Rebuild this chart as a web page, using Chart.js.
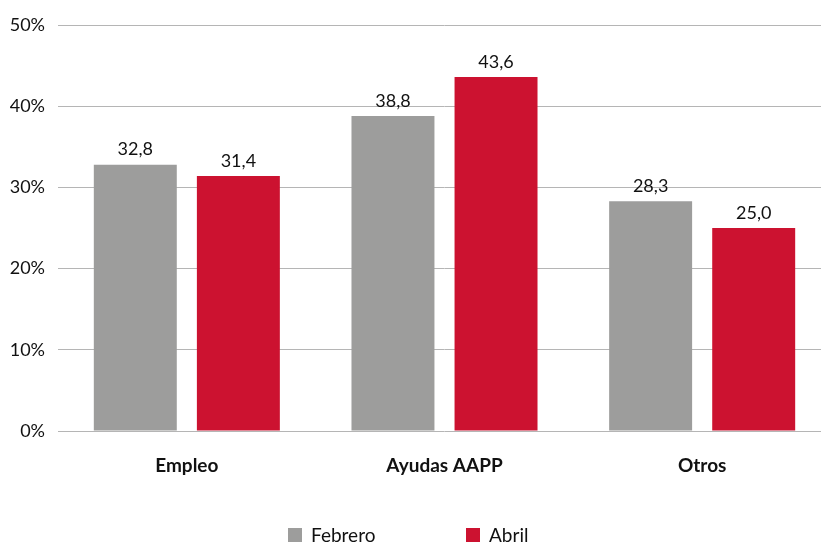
<!DOCTYPE html>
<html>
<head>
<meta charset="utf-8">
<script src="https://cdn.jsdelivr.net/npm/chart.js"></script>
<style>
  html, body { margin: 0; padding: 0; background: #fff; overflow: hidden; }
  #wrap { width: 831px; height: 543px; }
</style>
</head>
<body>
<div id="wrap"><canvas id="chart" width="831" height="543"></canvas></div>
<script>
const categories = ['Empleo', 'Ayudas AAPP', 'Otros'];
const febrero = [32.8, 38.8, 28.3];
const abril = [31.4, 43.6, 25.0];
const seriesNames = ['Febrero', 'Abril'];
const yTicks = [0, 10, 20, 30, 40, 50];

const GRAY = '#9d9d9c';
const RED = '#cc1230';
const FONT = 'Lato, "Open Sans", sans-serif';

// value labels above bars
const barLabels = {
    id: 'barLabels',
    afterDatasetsDraw(chart) {
        const ctx = chart.ctx;
        ctx.save();
        ctx.font = '18px ' + FONT;
        ctx.fillStyle = '#111';
        ctx.textAlign = 'center';
        ctx.textBaseline = 'bottom';
        chart.data.datasets.forEach((ds, i) => {
            chart.getDatasetMeta(i).data.forEach((bar, j) => {
                ctx.fillText(ds.data[j].toFixed(1).replace('.', ','), bar.x, bar.y - 6);
            });
        });
        ctx.restore();
    }
};

// legend drawn at bottom
const bottomLegend = {
    id: 'bottomLegend',
    afterDraw(chart) {
        const ctx = chart.ctx;
        const xs = [288, 466];
        ctx.save();
        ctx.font = '19px ' + FONT;
        ctx.textBaseline = 'middle';
        chart.data.datasets.forEach((ds, i) => {
            ctx.fillStyle = ds.backgroundColor;
            ctx.fillRect(xs[i], 528, 14, 14);
            ctx.fillStyle = '#111';
            ctx.fillText(ds.label, xs[i] + 23, 536);
        });
        ctx.restore();
    }
};

new Chart(document.getElementById('chart'), {
    type: 'bar',
    data: {
        labels: categories,
        datasets: [
            { label: seriesNames[0], data: febrero, backgroundColor: GRAY },
            { label: seriesNames[1], data: abril, backgroundColor: RED }
        ]
    },
    options: {
        responsive: false,
        animation: false,
        layout: { padding: { top: 25, right: 0, left: 0, bottom: 0 } },
        categoryPercentage: 0.8,
        barPercentage: 0.805,
        plugins: {
            legend: { display: false },
            tooltip: { enabled: false }
        },
        scales: {
            x: {
                grid: { display: false },
                border: { display: false },
                ticks: {
                    color: '#111',
                    padding: 15,
                    font: { family: FONT, size: 19, weight: 'bold' }
                },
                afterFit(scale) { scale.height = 112; }
            },
            y: {
                min: 0,
                max: 50,
                afterBuildTicks(scale) { scale.ticks = yTicks.map(v => ({ value: v })); },
                grid: { color: '#b5b5b5', lineWidth: 1, drawTicks: false },
                border: { display: false },
                ticks: {
                    color: '#111',
                    padding: 13,
                    font: { family: FONT, size: 18 },
                    callback: v => v + '%'
                },
                afterFit(scale) { scale.width = 58; }
            }
        }
    },
    plugins: [barLabels, bottomLegend]
});
</script>
</body>
</html>
